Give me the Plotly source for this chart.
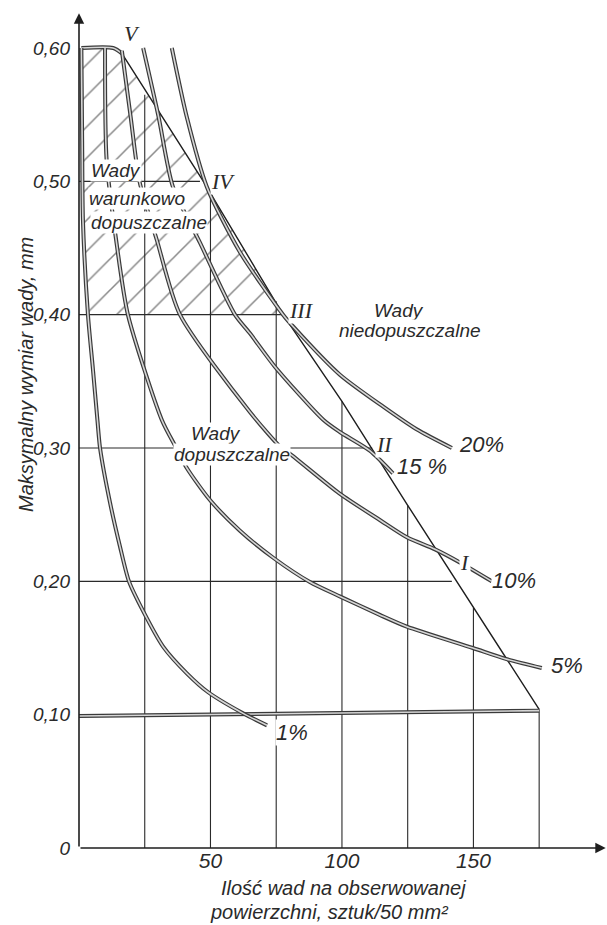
import plotly.graph_objects as go

# ---------------- data ----------------
# percentage curves (x = defects per 50 mm^2, y = max defect size, mm)
c1_x = [0.9, 1.2, 1.5, 3.4, 5.3, 7.0, 8.0, 11.8, 15.6, 19.0, 24.3, 32.0, 41.0, 49.0, 62.4, 71.5]
c1_y = [0.600, 0.530, 0.471, 0.400, 0.359, 0.321, 0.300, 0.259, 0.226, 0.200, 0.178, 0.151, 0.131, 0.117, 0.101, 0.092]

c5_x = [9.9, 10.5, 14.4, 18.6, 31.5, 37.0, 41.0, 49.8, 61.2, 74.0, 87.8, 99.4, 114.4, 124.7, 149.8, 162.0, 176.0]
c5_y = [0.600, 0.516, 0.452, 0.400, 0.321, 0.300, 0.285, 0.261, 0.238, 0.2175, 0.1995, 0.1885, 0.1748, 0.166, 0.150, 0.142, 0.135]

c10_x = [16.3, 19.6, 23.0, 29.6, 38.4, 65.0, 77.0, 80.0, 99.0, 114.4, 124.7, 135.4, 145.0, 157.0]
c10_y = [0.598, 0.549, 0.500, 0.456, 0.400, 0.327, 0.300, 0.296, 0.266, 0.246, 0.233, 0.224, 0.214, 0.200]

c15_x = [24.4, 30.2, 35.7, 46.0, 59.3, 65.0, 74.5, 93.0, 99.2, 110.6, 119.4]
c15_y = [0.600, 0.549, 0.496, 0.454, 0.400, 0.386, 0.361, 0.321, 0.312, 0.298, 0.281]

c20_x = [35.3, 40.9, 48.6, 61.2, 77.6, 81.5, 99.2, 115.7, 128.4, 141.8]
c20_y = [0.600, 0.549, 0.496, 0.447, 0.400, 0.391, 0.355, 0.331, 0.314, 0.300]

# boundary line V-IV-III-II-I-end
bound_x = [16.3, 47.3, 77.6, 100.0, 125.0, 150.0, 175.0]
bound_y = [0.596, 0.500, 0.400, 0.335, 0.257, 0.180, 0.104]

# thick top edge of the hatched zone and thick 0.10 line
top_x = [0.9, 13.0, 16.3]
top_y = [0.600, 0.600, 0.596]
base_x = [0.0, 175.0]
base_y = [0.099, 0.103]

# partial grid lines
vgrid_x = [25, 50, 75, 100, 125, 150, 175]
vgrid_top = [0.565, 0.490, 0.410, 0.335, 0.257, 0.180, 0.104]
hgrid_y = [0.20, 0.30, 0.40, 0.50]
hgrid_right = [141.8, 111.5, 77.6, 46.0]

# ticks
xtick_vals = [50, 100, 150]
xtick_text = ["50", "100", "150"]
ytick_vals = [0, 0.1, 0.2, 0.3, 0.4, 0.5, 0.6]
ytick_text = ["0", "0,10", "0,20", "0,30", "0,40", "0,50", "0,60"]

# labels
pct_labels = [("1%", 81.0, 0.087), ("5%", 185.5, 0.137), ("10%", 165.4, 0.201),
              ("15 %", 130.4, 0.286), ("20%", 152.9, 0.303)]
roman_labels = [("V", 20.2, 0.611), ("IV", 54.8, 0.500), ("III", 84.8, 0.403),
                ("II", 116.3, 0.303), ("I", 146.8, 0.214)]
zone_labels = [("Wady", 4.2, 0.508), ("warunkowo", 3.4, 0.487), ("dopuszczalne", 4.2, 0.4695),
               ("Wady", 42.2, 0.311), ("dopuszczalne", 35.7, 0.295),
               ("Wady", 111.8, 0.4035), ("niedopuszczalne", 98.5, 0.388)]

x_title = ["Ilość wad na obserwowanej", "powierzchni, sztuk/50 mm²"]
y_title = "Maksymalny wymiar wady, mm"

# ---------------- figure ----------------
INK = "#1e1e1e"
TXT = "#2a2a2a"
fig = go.Figure()

# hatched zone (conditionally permissible)
hx = [x for x, y in zip(c1_x, c1_y) if y >= 0.40]
hy = [y for y in c1_y if y >= 0.40]
bx = [x for x, y in zip(bound_x, bound_y) if y >= 0.40][::-1]
by = [y for y in bound_y if y >= 0.40][::-1]
poly_x = hx + bx + top_x[::-1]
poly_y = hy + by + top_y[::-1]
fig.add_trace(go.Scatter(
    x=poly_x, y=poly_y, mode="none", fill="toself",
    fillcolor="rgba(255,255,255,0)",
    fillpattern=dict(shape="/", size=22, solidity=0.07, fgcolor="#111111",
                     bgcolor="rgba(255,255,255,0)", fillmode="overlay"),
    hoverinfo="skip", showlegend=False))

# grid lines
gx, gy = [], []
for x, t in zip(vgrid_x, vgrid_top):
    gx += [x, x, None]
    gy += [0, t, None]
for y, r in zip(hgrid_y, hgrid_right):
    gx += [0, r, None]
    gy += [y, y, None]
fig.add_trace(go.Scatter(x=gx, y=gy, mode="lines", line=dict(color="#2a2a2a", width=1.1),
                         hoverinfo="skip", showlegend=False))

# boundary
fig.add_trace(go.Scatter(x=bound_x, y=bound_y, mode="lines", line=dict(color=INK, width=1.4),
                         hoverinfo="skip", showlegend=False))


def double_line(x, y, spline=True):
    shape = "spline" if spline else "linear"
    fig.add_trace(go.Scatter(x=x, y=y, mode="lines",
                             line=dict(color="#3a3a3a", width=4.0, shape=shape, smoothing=0.7),
                             hoverinfo="skip", showlegend=False))
    fig.add_trace(go.Scatter(x=x, y=y, mode="lines",
                             line=dict(color="#d6d6d6", width=1.6, shape=shape, smoothing=0.7),
                             hoverinfo="skip", showlegend=False))


double_line(base_x, base_y, spline=False)
double_line(top_x, top_y)
for cx, cy in [(c1_x, c1_y), (c5_x, c5_y), (c10_x, c10_y), (c15_x, c15_y), (c20_x, c20_y)]:
    double_line(cx, cy)

ann = []
# axis arrows
ann.append(dict(x=200.3, y=0, ax=0, ay=0, xref="x", yref="y", axref="x", ayref="y",
                text="", showarrow=True, arrowhead=2, arrowsize=1.3, arrowwidth=1.6, arrowcolor=INK))
ann.append(dict(x=0, y=0.626, ax=0, ay=0, xref="x", yref="y", axref="x", ayref="y",
                text="", showarrow=True, arrowhead=2, arrowsize=1.3, arrowwidth=1.6, arrowcolor=INK))

sans_it = dict(family="Liberation Sans", style="italic", color=TXT)
serif_it = dict(family="Liberation Serif", style="italic", color=TXT)

for t, x, y in zone_labels:
    ann.append(dict(x=x, y=y, xref="x", yref="y", text=t, showarrow=False,
                    xanchor="left", yanchor="middle",
                    font=dict(size=19, **sans_it), bgcolor="white", borderpad=0))
for t, x, y in pct_labels:
    ann.append(dict(x=x, y=y, xref="x", yref="y", text=t, showarrow=False,
                    xanchor="center", yanchor="middle",
                    font=dict(size=22, **sans_it), bgcolor="white", borderpad=0))
for t, x, y in roman_labels:
    ann.append(dict(x=x, y=y, xref="x", yref="y", text=t, showarrow=False,
                    xanchor="center", yanchor="middle",
                    font=dict(size=22, **serif_it), bgcolor="white", borderpad=0))

# axis titles (paper coordinates, outside the plot area)
ann.append(dict(x=0.500, y=-0.0477, xref="paper", yref="paper", text=x_title[0], showarrow=False,
                xanchor="center", yanchor="middle", font=dict(size=20, **sans_it)))
ann.append(dict(x=0.475, y=-0.0764, xref="paper", yref="paper", text=x_title[1], showarrow=False,
                xanchor="center", yanchor="middle", font=dict(size=20, **sans_it)))
ann.append(dict(x=-0.1005, y=0.5656, xref="paper", yref="paper", text=y_title, showarrow=False,
                xanchor="center", yanchor="middle",
                textangle=-90, font=dict(size=20, **sans_it)))

fig.update_layout(
    width=607, height=925, autosize=False,
    margin=dict(l=79, r=0, t=10, b=77, pad=0),
    paper_bgcolor="white", plot_bgcolor="white",
    showlegend=False,
    annotations=ann,
    xaxis=dict(range=[0, 200.8], showgrid=False, zeroline=False, showline=False,
               tickvals=xtick_vals, ticktext=xtick_text, ticks="", automargin=False,
               ticklabelstandoff=-2,
               tickfont=dict(size=21, **sans_it), fixedrange=True),
    yaxis=dict(range=[0, 0.6285], showgrid=False, zeroline=False, showline=False,
               tickvals=ytick_vals, ticktext=ytick_text, ticks="", automargin=False,
               ticklabelstandoff=8,
               tickfont=dict(size=19, **sans_it), fixedrange=True),
)

# remove the browser's default 8px page margin so the figure fills the window exactly
fig.write_html("out.html",
               config={"displayModeBar": False, "staticPlot": True},
               post_script="document.body.style.margin='0';document.body.style.overflow='hidden';")
